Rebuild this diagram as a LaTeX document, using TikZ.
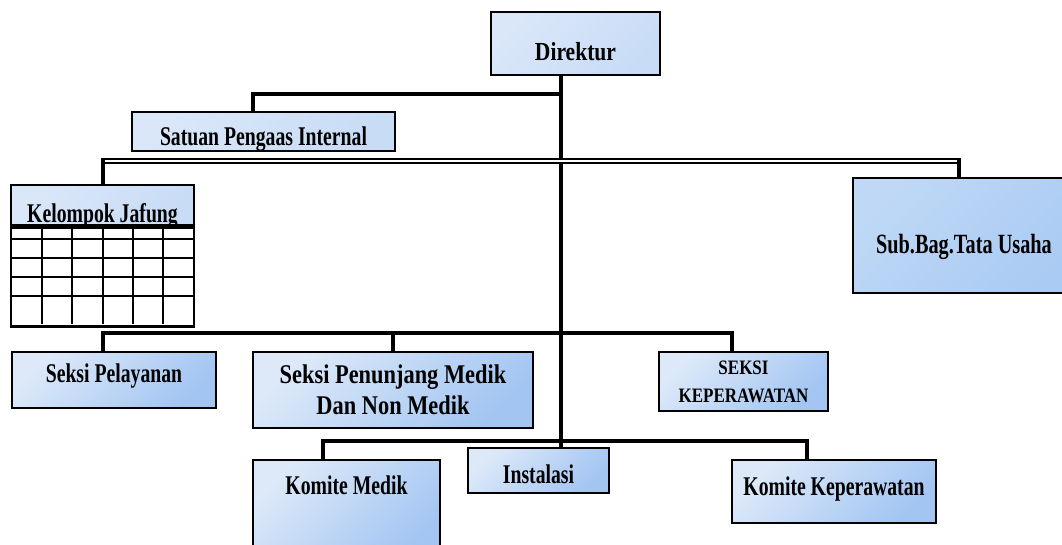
\documentclass[tikz,border=0pt]{standalone}
\usepackage{fontspec}
\newfontfamily\orgfont{Liberation Serif}[FakeStretch=0.73]
\newfontfamily\widefont{Liberation Serif}[FakeStretch=0.83]
\usetikzlibrary{positioning}
\definecolor{boxtop}{HTML}{DDE9F9}
\definecolor{boxbot}{HTML}{A2C5F2}
\definecolor{paletop}{HTML}{DAE7F9}
\definecolor{palebot}{HTML}{C8DCF6}
\definecolor{midtop}{HTML}{BFD8F6}
\definecolor{midbot}{HTML}{AACBF3}
\tikzstyle{unit} = [rectangle, draw, line width=2.5pt, top color=boxtop, bottom color=boxbot, shading angle=45, inner sep=0pt, align=center, font=\orgfont\bfseries\fontsize{27}{30}\selectfont]
\tikzstyle{paleunit} = [unit, top color=paletop, bottom color=palebot, shading angle=45]
\tikzstyle{midunit} = [unit, top color=midtop, bottom color=midbot, shading angle=45]
\tikzstyle{line} = [draw, line width=3.5pt]
\tikzstyle{busline} = [draw, line width=2pt, double, double distance=2.2pt]

\begin{document}
\begin{tikzpicture}[x=1pt, y=-1pt]
    \clip (0,0) rectangle (1062,544);
    % Place nodes
    \node [paleunit, minimum width=169pt, minimum height=63pt, text height=33pt, text depth=0pt,
           font=\widefont\bfseries\fontsize{26}{30}\selectfont] (direktur) at (575.5,43.5) {Direktur};
    \node [paleunit, minimum width=263pt, minimum height=39pt, text height=27pt, text depth=0pt] (satuan) at (263.5,131.5) {Satuan Pengaas Internal};
    \node [paleunit, minimum width=183pt, minimum height=40pt, text height=34pt, text depth=0pt] (jafung) at (102.5,205) {Kelompok Jafung};
    \node [rectangle, draw, line width=2.5pt, fill=white, minimum width=183pt, minimum height=99pt, below=0pt of jafung] (jafunggrid) {};
    \node [midunit, minimum width=222pt, minimum height=115pt, text height=35pt, text depth=0pt,
           font=\orgfont\bfseries\fontsize{27.8}{30}\selectfont] (subbag) at (964,235.5) {Sub.Bag.Tata Usaha};
    \node [unit, minimum width=204pt, minimum height=56pt, text height=16pt, text depth=12pt] (pelayanan) at (114,380) {Seksi Pelayanan};
    \node [unit, minimum width=280pt, minimum height=76pt,
           font=\widefont\bfseries\fontsize{27}{31}\selectfont] (penunjang) at (393,390) {Seksi Penunjang Medik\\Dan Non Medik};
    \node [unit, minimum width=169pt, minimum height=59pt,
           font=\widefont\bfseries\fontsize{20.5}{28}\selectfont] (keperawatan) at (743.5,381.5) {SEKSI\\KEPERAWATAN};
    \node [unit, minimum width=187pt, minimum height=100pt, text height=16pt, text depth=48pt] (komitemedik) at (346.5,510) {Komite Medik};
    \node [unit, minimum width=141pt, minimum height=45pt, text height=25pt, text depth=0pt] (instalasi) at (538.5,470.5) {Instalasi};
    \node [unit, minimum width=204pt, minimum height=63pt, text height=16pt, text depth=9pt] (komitekep) at (834,491.5) {Komite Keperawatan};
    % Grid of the Jafung table
    \foreach \gx in {42,72,103,133,163}
        \draw [line width=2.5pt] (\gx,225) -- (\gx,324);
    \foreach \gy in {239,258,277,296}
        \draw [line width=2.5pt] (11,\gy) -- (194,\gy);
    % Bus points
    \coordinate (spine) at (561,0);
    \coordinate (upperbus) at (253,94);
    \coordinate (leftbus) at (103,161);
    \coordinate (rightbus) at (959,161);
    \coordinate (midbus) at (103,333);
    \coordinate (midbusend) at (732,333);
    \coordinate (lowbus) at (323,441);
    \coordinate (lowbusend) at (807,441);
    % Draw edges
    \path [line] (direktur.south -| spine) -- (instalasi.north -| spine);
    \path [line] (satuan.north -| upperbus) -- (upperbus) -- (upperbus -| spine);
    \path [busline] (leftbus) -- (rightbus);
    \path [line] ([yshift=3pt]leftbus) -- (jafung.north -| leftbus);
    \path [line] ([yshift=3pt]rightbus) -- (subbag.north -| rightbus);
    \path [line] (pelayanan.north -| midbus) -- (midbus) -- (midbusend) -- (keperawatan.north -| midbusend);
    \path [line] (penunjang.north) -- (penunjang.north |- midbus);
    \path [line] (komitemedik.north -| lowbus) -- (lowbus) -- (lowbusend) -- (komitekep.north -| lowbusend);
\end{tikzpicture}
\end{document}
